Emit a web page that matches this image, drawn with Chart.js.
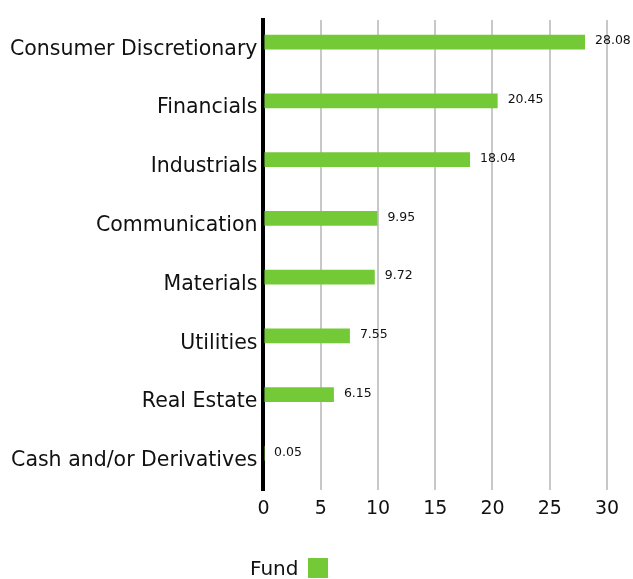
<!DOCTYPE html>
<html>
<head>
<meta charset="utf-8">
<script src="https://cdn.jsdelivr.net/npm/chart.js@4"></script>
<style>
  html, body { margin: 0; padding: 0; background: #fff; }
  #wrap { position: relative; width: 633px; height: 579px; overflow: hidden; }
  #legend { position: absolute; left: 250px; top: 556px; font: 20px "DejaVu Sans", sans-serif; color: #111; display: flex; align-items: center; }
  #legend span.box { display: inline-block; width: 20px; height: 20px; background: #74c936; margin-left: 10px; }
</style>
</head>
<body>
<div id="wrap">
  <canvas id="sectorChart" width="633" height="579"></canvas>
  <div id="legend">Fund<span class="box"></span></div>
</div>
<script>
// sector weights
const categories = ['Consumer Discretionary', 'Financials', 'Industrials', 'Communication', 'Materials', 'Utilities', 'Real Estate', 'Cash and/or Derivatives'];
const fundValues = [28.08, 20.45, 18.04, 9.95, 9.72, 7.55, 6.15, 0.05];
const emptyValues = [null, null, null, null, null, null, null, null];
const xTicks = [0, 5, 10, 15, 20, 25, 30];

const fontFamily = '"DejaVu Sans", sans-serif';

// draws the value next to each bar end
const valueLabels = {
    id: 'valueLabels',
    afterDatasetsDraw(chart) {
        const ctx = chart.ctx;
        const meta = chart.getDatasetMeta(0);
        ctx.save();
        ctx.font = '12.5px ' + fontFamily;
        ctx.fillStyle = '#111';
        ctx.textAlign = 'left';
        ctx.textBaseline = 'middle';
        meta.data.forEach(function(bar, i) {
            ctx.fillText(fundValues[i].toFixed(2), bar.x + 10, bar.y - 1);
        });
        ctx.restore();
    }
};

new Chart(document.getElementById('sectorChart'), {
    type: 'bar',
    data: {
        labels: categories,
        datasets: [{
            label: 'Fund',
            data: fundValues,
            backgroundColor: '#74c936',
            categoryPercentage: 0.5,
            barPercentage: 1.0
        }, {
            label: 'Other',
            data: emptyValues,
            backgroundColor: '#cccccc',
            categoryPercentage: 0.5,
            barPercentage: 1.0
        }]
    },
    options: {
        indexAxis: 'y',
        responsive: false,
        animation: false,
        layout: {
            padding: { top: 20, right: 26, bottom: 52, left: 4 }
        },
        plugins: {
            legend: { display: false },
            tooltip: { enabled: false }
        },
        scales: {
            x: {
                min: 0,
                max: 30,
                afterBuildTicks: function(axis) {
                    axis.ticks = xTicks.map(v => ({ value: v }));
                },
                grid: {
                    color: '#c8c8c8',
                    lineWidth: 2,
                    drawTicks: false
                },
                border: { display: false },
                ticks: {
                    color: '#111',
                    padding: 7,
                    font: { family: fontFamily, size: 19 }
                }
            },
            y: {
                grid: { display: false, drawTicks: false },
                border: { display: true, color: '#000', width: 4 },
                ticks: {
                    color: '#111',
                    padding: 6,
                    font: { family: fontFamily, size: 20.5 }
                }
            }
        }
    },
    plugins: [valueLabels]
});
</script>
</body>
</html>
